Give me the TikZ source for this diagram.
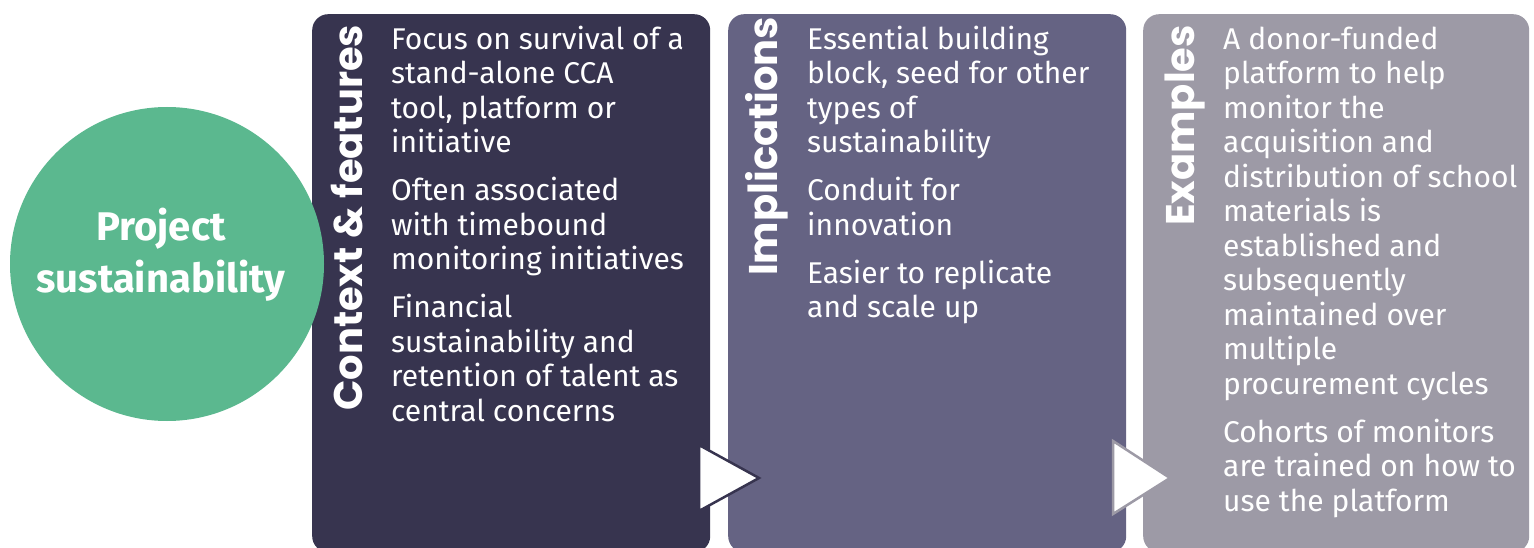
\documentclass[tikz,border=0pt]{standalone}
\usepackage{fontspec}
\setmainfont{Fira Sans}
\newfontfamily\titlefont{Poppins}
\definecolor{pone}{HTML}{37344F}
\definecolor{ptwo}{HTML}{656383}
\definecolor{pthree}{HTML}{9D9AA6}
\definecolor{cgreen}{HTML}{5BB88F}
\tikzset{
  panel/.style={rectangle, rounded corners=16pt, draw=none, anchor=north west, inner sep=0pt},
  vtitle/.style={rotate=90, anchor=base west, inner sep=0pt, text=white, font=\titlefont\bfseries\fontsize{40}{44}\selectfont},
  body/.style={anchor=base west, inner sep=0pt, align=left, text=white, font=\fontsize{30}{34.5}\selectfont},
  arrowtri/.style={fill=white, line width=2.5pt, line join=miter},
}
\begin{document}
\begin{tikzpicture}[x=1pt,y=-1pt]
\useasboundingbox (0,0) rectangle (1534,548);
% panels
\node[panel, fill=pone, minimum width=398pt, minimum height=538pt] (p1) at (312,14) {};
\node[panel, fill=ptwo, minimum width=398pt, minimum height=538pt] (p2) at (728,14) {};
\node[panel, fill=pthree, minimum width=386pt, minimum height=538pt] (p3) at (1143,14) {};
% circle
\node[circle, fill=cgreen, minimum size=314pt, inner sep=0pt] (c) at (167,264) {};
\node[anchor=base, align=center, inner sep=0pt, text=white, font=\bfseries\fontsize{40}{52}\selectfont] (ctitle) at (161,292) {Project\\sustainability};
% vertical titles
\node[vtitle] (t1) at (362,411) {Context \& features};
\node[vtitle] (t2) at (777,276) {Implications};
\node[vtitle] (t3) at (1194,226) {Examples};
% body texts (base anchor = baseline of the last line)
\node[body] (b1) at (391,421) {Focus on survival of a\\stand-alone CCA\\tool, platform or\\initiative\\[13.5pt]Often associated\\with timebound\\monitoring initiatives\\[13.5pt]Financial\\sustainability and\\retention of talent as\\central concerns};
\node[body] (b2) at (807,317.5) {Essential building\\block, seed for other\\types of\\sustainability\\[13.5pt]Conduit for\\innovation\\[13.5pt]Easier to replicate\\and scale up};
\node[body] (b3) at (1223,511) {A donor-funded\\platform to help\\monitor the\\acquisition and\\distribution of school\\materials is\\established and\\subsequently\\maintained over\\multiple\\procurement cycles\\[13.5pt]Cohorts of monitors\\are trained on how to\\use the platform};
% triangles
\draw[arrowtri, draw=pone] (699,445) -- (759,478) -- (699,511) -- cycle;
\draw[arrowtri, draw=pthree] (1113,441) -- (1170,478) -- (1113,514) -- cycle;
\end{tikzpicture}
\end{document}
